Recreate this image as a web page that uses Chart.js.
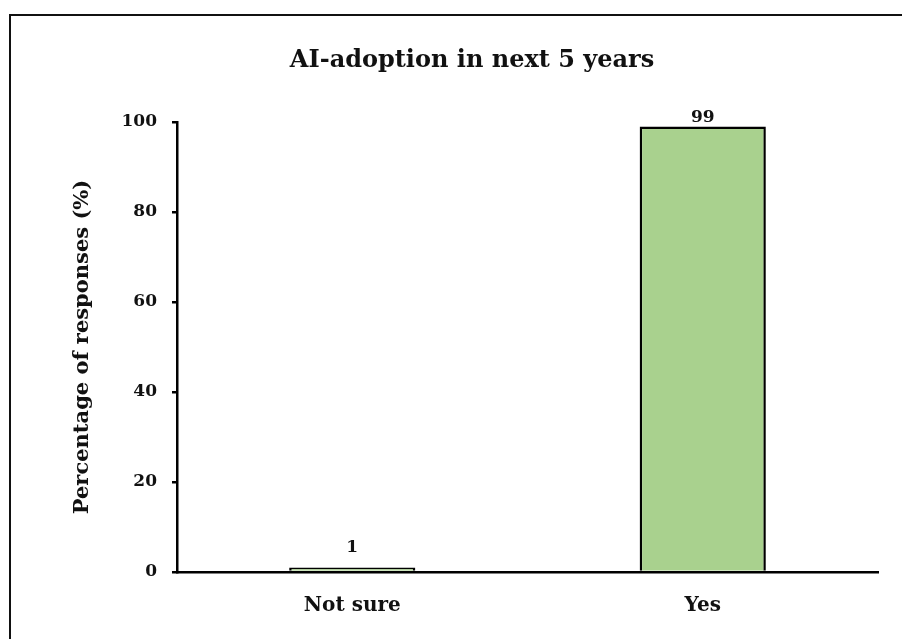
<!DOCTYPE html>
<html lang="en">
<head>
  <meta charset="UTF-8" />
  <title>AI-adoption in next 5 years</title>
  <script src="https://cdn.jsdelivr.net/npm/chart.js"></script>
  <style>
    html, body { margin: 0; padding: 0; background: #fff; overflow: hidden; }
    .frame {
      position: absolute; left: 9px; top: 14px;
      width: 924px; height: 700px;
      border: 2px solid #111;
    }
    #chart { position: absolute; left: 0; top: 0; }
  </style>
</head>
<body>
  <div class="frame"></div>
  <canvas id="chart" width="902" height="639"></canvas>
  <script>
    const categories = ['Not sure', 'Yes'];
    const responses = [1, 99];
    const yTicks = [0, 20, 40, 60, 80, 100];
    const chartTitle = 'AI-adoption in next 5 years';

    const serif = "'DejaVu Serif', serif";

    // title is centred on the outer frame, not on the canvas
    const frameTitle = {
      id: 'frameTitle',
      afterDraw(chart) {
        const ctx = chart.ctx;
        ctx.save();
        ctx.font = 'bold 24px ' + serif;
        ctx.fillStyle = '#111';
        ctx.textAlign = 'center';
        ctx.textBaseline = 'middle';
        ctx.fillText(chartTitle, 472, 61);
        ctx.restore();
      }
    };

    // value labels above each bar, kept inside the plot top
    const barLabels = {
      id: 'barLabels',
      afterDatasetsDraw(chart) {
        const ctx = chart.ctx;
        const meta = chart.getDatasetMeta(0);
        ctx.save();
        ctx.font = 'bold 17px ' + serif;
        ctx.fillStyle = '#111';
        ctx.textAlign = 'center';
        ctx.textBaseline = 'bottom';
        meta.data.forEach((bar, i) => {
          const y = Math.max(bar.y - 11, chart.chartArea.top + 4);
          ctx.fillText(String(responses[i]), bar.x, y);
        });
        ctx.restore();
      }
    };

    new Chart(document.getElementById('chart'), {
      type: 'bar',
      data: {
        labels: categories,
        datasets: [{
          data: responses,
          backgroundColor: '#a9d18e',
          borderColor: '#000',
          borderWidth: 2.5,
          borderSkipped: 'bottom',
          categoryPercentage: 1,
          barPercentage: 0.36
        }]
      },
      options: {
        responsive: false,
        animation: false,
        layout: { padding: { left: 0, right: 24, top: 122, bottom: 0 } },
        plugins: {
          legend: { display: false },
          tooltip: { enabled: false },
          title: { display: false }
        },
        scales: {
          x: {
            grid: { display: false, drawTicks: false },
            border: { display: true, color: '#000', width: 2.5 },
            ticks: {
              color: '#111',
              padding: 22,
              font: { family: serif, size: 20, weight: 'bold' }
            },
            afterFit(scale) { scale.height = 639 - 572; }
          },
          y: {
            min: 0,
            max: 100,
            afterBuildTicks(scale) { scale.ticks = yTicks.map(v => ({ value: v })); },
            grid: { display: true, drawOnChartArea: false, drawTicks: true, tickLength: 5, color: '#000', lineWidth: 2.5 },
            border: { display: true, color: '#000', width: 2.5 },
            ticks: {
              color: '#111',
              padding: 15,
              font: { family: serif, size: 17, weight: 'bold' }
            },
            title: {
              display: true,
              text: 'Percentage of responses (%)',
              color: '#111',
              font: { family: serif, size: 21, weight: 'bold', lineHeight: 1.2 },
              padding: { top: 70, bottom: 0 }
            },
            afterFit(scale) { scale.width = 177; }
          }
        }
      },
      plugins: [barLabels, frameTitle]
    });
  </script>
</body>
</html>
